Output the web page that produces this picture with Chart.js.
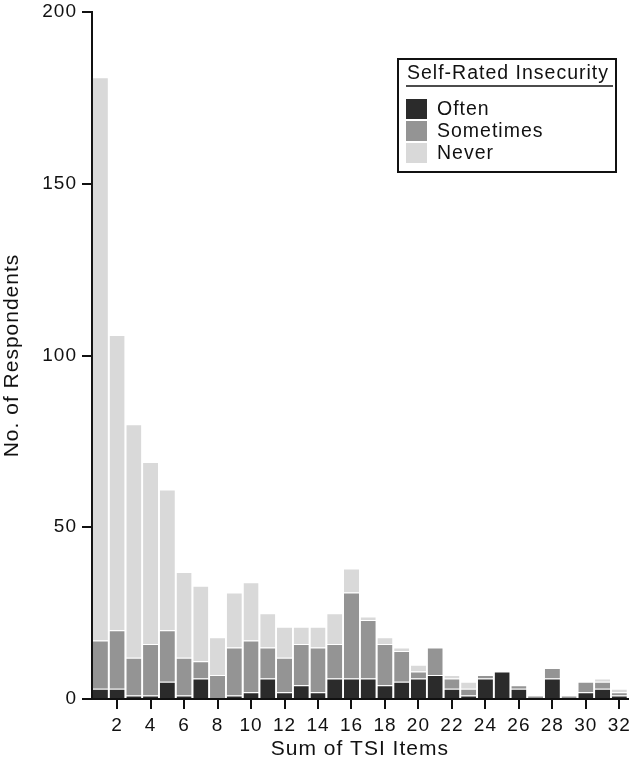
<!DOCTYPE html>
<html>
<head>
<meta charset="utf-8">
<script src="https://cdn.jsdelivr.net/npm/chart.js@4"></script>
<style>
  html, body { margin: 0; padding: 0; background: #fff; }
  #wrap { width: 635px; height: 775px; }
</style>
</head>
<body>
<div id="wrap"><canvas id="chart" width="635" height="775"></canvas></div>
<script>
// ===== data =====
const categories = [1,2,3,4,5,6,7,8,9,10,11,12,13,14,15,16,17,18,19,20,21,22,23,24,25,26,27,28,29,30,31,32];
const often     = [3,3,1,1,5,1,6,0,1,2,6,2,4,2,6,6,6,4,5,6,7,3,1,6,8,3,0,6,0,2,3,1];
const sometimes = [14,17,11,15,15,11,5,7,14,15,9,10,12,13,10,25,17,12,9,2,8,3,2,1,0,1,1,3,1,3,2,1];
const never     = [164,86,68,53,41,25,22,11,16,17,10,9,5,6,9,7,1,2,1,2,0,1,2,0,0,0,0,0,0,0,1,1];
const yTicks = [0, 50, 100, 150, 200];

const FONT = "'Liberation Sans', Arial, sans-serif";

// text in the original is a bit wide -> small letter spacing everywhere
const spacing = {
    id: "spacing",
    beforeDraw(chart) { chart.ctx.letterSpacing = "1px"; }
};

// legend box drawn inside plot (top right)
const legendBox = {
    id: "legendBox",
    afterDraw(chart) {
        const ctx = chart.ctx;
        ctx.save();
        ctx.letterSpacing = "1px";
        ctx.strokeStyle = "#111";
        ctx.lineWidth = 2;
        ctx.strokeRect(398, 59, 218, 113);

        ctx.fillStyle = "#111";
        ctx.font = "19.5px " + FONT;
        ctx.textBaseline = "middle";
        ctx.fillText("Self-Rated Insecurity", 407, 74);
        ctx.lineWidth = 1.5;
        ctx.beginPath();
        ctx.moveTo(406, 86);
        ctx.lineTo(613, 86);
        ctx.stroke();

        chart.data.datasets.forEach((ds, i) => {
            const y = 99 + i * 22;
            ctx.fillStyle = ds.backgroundColor;
            ctx.fillRect(406, y, 21, 20);
            ctx.fillStyle = "#111";
            ctx.font = "19.5px " + FONT;
            ctx.fillText(ds.label, 437, y + 10.5);
        });
        ctx.restore();
    }
};

new Chart(document.getElementById("chart"), {
    type: "bar",
    data: {
        labels: categories,
        datasets: [
            { label: "Often", data: often, backgroundColor: "#2b2b2b" },
            { label: "Sometimes", data: sometimes, backgroundColor: "#949494" },
            { label: "Never", data: never, backgroundColor: "#d9d9d9" }
        ]
    },
    options: {
        responsive: false,
        animation: false,
        layout: { padding: { top: 12, right: 7, left: 0, bottom: 0 } },
        datasets: {
            bar: {
                categoryPercentage: 1,
                barPercentage: 0.9,
                borderColor: "#ffffff",
                borderWidth: { top: 1 },
                borderSkipped: "bottom"
            }
        },
        plugins: {
            legend: { display: false },
            tooltip: { enabled: false }
        },
        scales: {
            x: {
                stacked: true,
                offset: true,
                afterFit: s => { s.height = 76; },
                grid: {
                    offset: false,
                    drawOnChartArea: false,
                    drawTicks: true,
                    tickLength: 10,
                    lineWidth: 2,
                    color: ctx => (ctx.index % 2 === 1 ? "#111" : "rgba(0,0,0,0)")
                },
                border: { display: true, color: "#111", width: 2 },
                ticks: {
                    autoSkip: false,
                    maxRotation: 0,
                    padding: 5,
                    color: "#111",
                    font: { family: FONT, size: 19 },
                    callback: (v, i) => ((i + 1) % 2 === 0 ? String(i + 1) : "")
                },
                title: {
                    display: true,
                    text: "Sum of TSI Items",
                    color: "#111",
                    font: { family: FONT, size: 21 },
                    padding: { top: 0, bottom: 13 }
                }
            },
            y: {
                stacked: true,
                min: 0,
                max: 200,
                afterFit: s => { s.width = 92; s.paddingTop = 0; s.paddingBottom = 0; },
                afterBuildTicks: s => { s.ticks = yTicks.map(v => ({ value: v })); },
                grid: {
                    drawOnChartArea: false,
                    drawTicks: true,
                    tickLength: 10,
                    lineWidth: 2,
                    color: "#111"
                },
                border: { display: true, color: "#111", width: 2 },
                ticks: {
                    padding: 5,
                    color: "#111",
                    font: { family: FONT, size: 19 }
                },
                title: {
                    display: true,
                    text: "No. of Respondents",
                    color: "#111",
                    font: { family: FONT, size: 21 },
                    padding: { top: 0, bottom: 0 }
                }
            }
        }
    },
    plugins: [spacing, legendBox]
});
</script>
</body>
</html>
